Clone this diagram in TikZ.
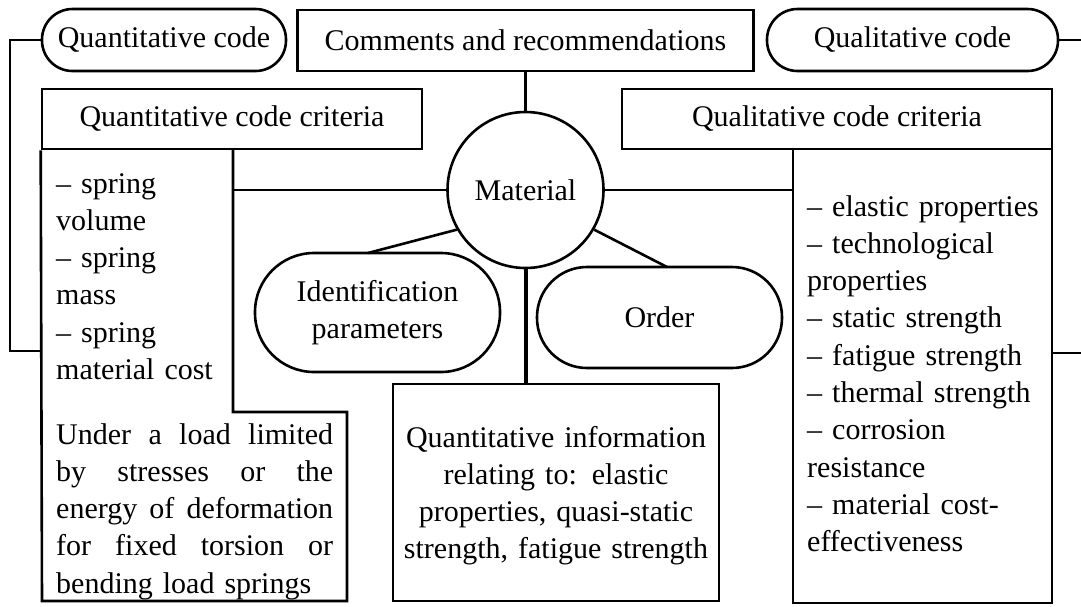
\documentclass[tikz,border=0pt]{standalone}
\usepackage{fontspec}
\setmainfont{Liberation Serif}
\newcommand{\jline}[1]{\makebox[277pt][s]{#1}}
\begin{document}
\begin{tikzpicture}[x=1pt,y=-1pt,
  every node/.style={font=\fontsize{30}{37.3}\selectfont, inner sep=0pt},
  ln/.style={line width=2.6pt},
  boxnode/.style={draw, line width=2.6pt, rectangle},
  pill/.style={draw, line width=2.6pt, rectangle},
  txt/.style={inner sep=0pt}
]
\useasboundingbox (0,0) rectangle (1081,606);
% top row
\node[pill, rounded corners=30.5pt, minimum width=244pt, minimum height=62pt] (qnc) at (164,40) {Quantitative code};
\node[boxnode, minimum width=456pt, minimum height=61pt] (com) at (525.5,40.5) {Comments and recommendations};
\node[pill, rounded corners=30.5pt, minimum width=291pt, minimum height=62pt] (qlc) at (912.5,40) {Qualitative code};
% headers
\node[boxnode, minimum width=380pt, minimum height=60pt] (qnh) at (232,119) {Quantitative code criteria};
\node[boxnode, minimum width=430pt, minimum height=60pt] (qlh) at (837,119) {Qualitative code criteria};
% center
\node[draw, circle, line width=2.6pt, minimum size=156pt] (mat) at (525.5,190) {Material};
\node[pill, rounded corners=59pt, minimum width=245pt, minimum height=119pt, align=center] (ident) at (377.5,312.5) {Identification\\parameters};
\node[pill, rounded corners=50pt, minimum width=245pt, minimum height=101pt] (order) at (659.5,317.5) {Order};
\node[boxnode, minimum width=326pt, minimum height=217pt] (info) at (556,492.5) {};
\node[txt, text width=330pt, align=center, anchor=base] (infot) at (556,447) {Quantitative information\\relating to: elastic\\properties, quasi-static\\strength, fatigue strength};
% left body
\draw[ln] (qnh.south west) -- (42,601) -- (347,601) -- (347,412) -- (233,412) -- (233,149);
\node[txt, text width=200pt, align=left, anchor=base west] (leftl) at (56,193) {-- spring\\volume\\-- spring\\mass\\-- spring\\material cost};
\node[txt, text width=277pt, align=left, anchor=base west] (leftb) at (56,444) {\jline{Under\hfill a\hfill load\hfill limited}\\\jline{by\hfill stresses\hfill or\hfill the}\\\jline{energy\hfill of\hfill deformation}\\\jline{for\hfill fixed\hfill torsion\hfill or}\\bending load springs};
% right body
\draw[ln] (793,149) -- (793,603) -- (1052,603) -- (1052,149);
\node[txt, text width=240pt, align=left, anchor=base west] (rightl) at (807,216) {-- elastic properties\\-- technological\\properties\\-- static strength\\-- fatigue strength\\-- thermal strength\\-- corrosion\\resistance\\-- material cost-\\effectiveness};
% coordinates
\coordinate (lA) at (10,40);
\coordinate (lB) at (42,351);
\coordinate (rA) at (1081,40);
\coordinate (rB) at (1052,353);
\coordinate (rC) at (1081,353);
\coordinate (mL) at (233,190);
\coordinate (mR) at (793,190);
\coordinate (iT) at (368,253);
\coordinate (oT) at (667,267);
% connectors
\draw[ln] (qnc.west) -- (lA) |- (lB);
\draw[ln] (qlc.east) -- (rA);
\draw[ln] (rB) -- (rC);
\draw[ln] (com.south) -- (mat.north);
\draw[ln] (mL) -- (mat.west);
\draw[ln] (mat.east) -- (mR);
\draw[ln] (mat.210) -- (iT);
\draw[ln] (mat.330) -- (oT);
\draw[line width=4pt] (mat.south) -- (mat.south |- info.north);
\end{tikzpicture}
\end{document}
